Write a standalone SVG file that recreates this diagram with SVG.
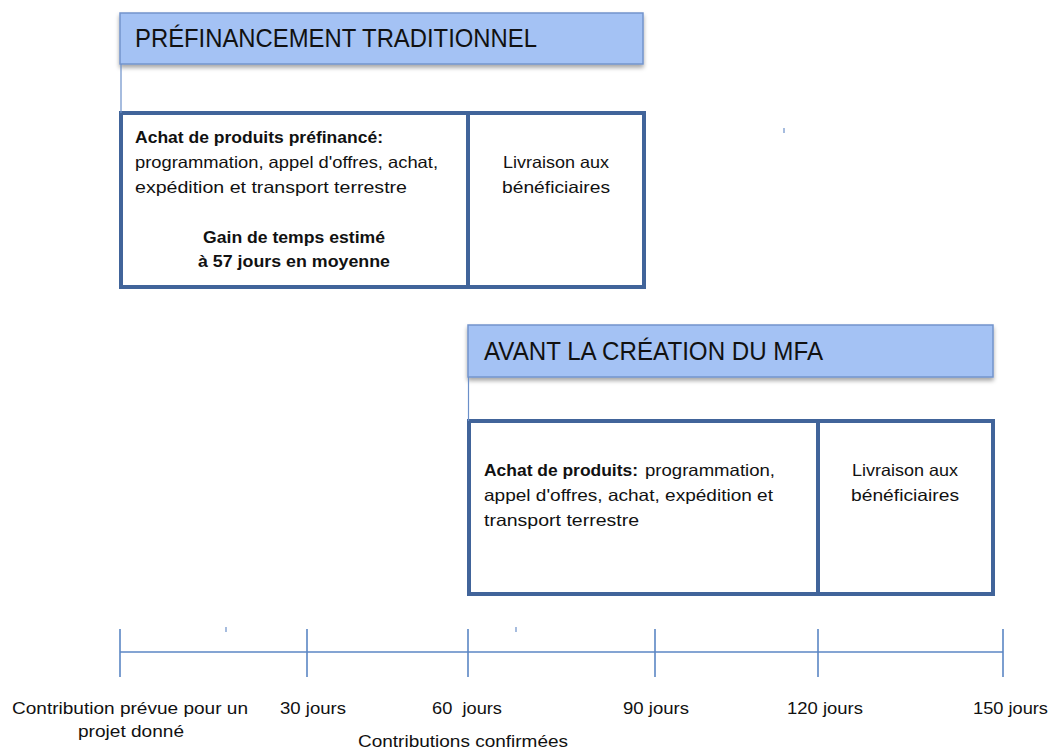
<svg xmlns="http://www.w3.org/2000/svg" width="1051" height="749" viewBox="0 0 1051 749">
<defs>
<filter id="sh" x="-5%" y="-20%" width="110%" height="160%">
<feDropShadow dx="0" dy="3" stdDeviation="2" flood-color="#000" flood-opacity="0.35"/>
</filter>
</defs>
<style>
text{font-family:"Liberation Sans",Arial,sans-serif;fill:#111;}
.hd{fill:#a4c2f4;stroke:#7394cc;stroke-width:1.5;}
.ht{font-size:26px;}
.bx{fill:#fff;stroke:#41649a;stroke-width:4;}
.t{font-size:16.5px;}
.b{font-weight:bold;}
.ax{stroke:#5b86c4;stroke-width:1.6;fill:none;}
.lk{stroke:#6b8fc9;stroke-width:1.2;}
</style>

<g id="header-prefinancement">
<rect class="hd" x="120" y="13" width="523" height="51" filter="url(#sh)"/>
<text class="ht" x="135" y="47" textLength="402" lengthAdjust="spacingAndGlyphs">PRÉFINANCEMENT TRADITIONNEL</text>
</g>

<g id="header-avant-mfa">
<rect class="hd" x="468" y="325" width="525" height="52" filter="url(#sh)"/>
<text class="ht" x="484" y="360" textLength="339" lengthAdjust="spacingAndGlyphs">AVANT LA CRÉATION DU MFA</text>
</g>

<g id="box-prefinance-achat">
<rect class="bx" x="121" y="113" width="347" height="174"/>
<text class="t b" x="135" y="143" textLength="248" lengthAdjust="spacingAndGlyphs">Achat de produits préfinancé:</text>
<text class="t" x="135" y="168" textLength="303" lengthAdjust="spacingAndGlyphs">programmation, appel d'offres, achat,</text>
<text class="t" x="135" y="193" textLength="272" lengthAdjust="spacingAndGlyphs">expédition et transport terrestre</text>
<text class="t b" x="203" y="243" textLength="182" lengthAdjust="spacingAndGlyphs">Gain de temps estimé</text>
<text class="t b" x="198" y="267" textLength="192" lengthAdjust="spacingAndGlyphs">à 57 jours en moyenne</text>
</g>

<g id="box-prefinance-livraison">
<rect class="bx" x="468" y="113" width="176" height="174"/>
<text class="t" x="503" y="168" textLength="106" lengthAdjust="spacingAndGlyphs">Livraison aux</text>
<text class="t" x="502" y="193" textLength="108" lengthAdjust="spacingAndGlyphs">bénéficiaires</text>
</g>

<g id="box-avant-achat">
<rect class="bx" x="469" y="421" width="349" height="173"/>
<text class="t" x="484" y="476"><tspan class="b" textLength="154" lengthAdjust="spacingAndGlyphs">Achat de produits:</tspan><tspan x="645" textLength="130" lengthAdjust="spacingAndGlyphs">programmation,</tspan></text>
<text class="t" x="484" y="501" textLength="289" lengthAdjust="spacingAndGlyphs">appel d'offres, achat, expédition et</text>
<text class="t" x="484" y="526" textLength="155" lengthAdjust="spacingAndGlyphs">transport terrestre</text>
</g>

<g id="box-avant-livraison">
<rect class="bx" x="818" y="421" width="175" height="173"/>
<text class="t" x="852" y="476" textLength="106" lengthAdjust="spacingAndGlyphs">Livraison aux</text>
<text class="t" x="851" y="501" textLength="108" lengthAdjust="spacingAndGlyphs">bénéficiaires</text>
</g>

<g id="timeline">
<line class="ax" x1="120" y1="652" x2="1003" y2="652"/>
<line class="ax" x1="120" y1="629" x2="120" y2="677"/>
<line class="ax" x1="307" y1="629" x2="307" y2="677"/>
<line class="ax" x1="468" y1="629" x2="468" y2="677"/>
<line class="ax" x1="655" y1="629" x2="655" y2="677"/>
<line class="ax" x1="818" y1="629" x2="818" y2="677"/>
<line class="ax" x1="1003" y1="629" x2="1003" y2="677"/>
<line class="lk" x1="226" y1="627" x2="226" y2="632"/>
<line class="lk" x1="516" y1="627" x2="516" y2="632"/>
<line class="lk" x1="784" y1="128" x2="784" y2="133"/>
<text class="t" x="12" y="714" textLength="236" lengthAdjust="spacingAndGlyphs">Contribution prévue pour un</text>
<text class="t" x="78" y="737" textLength="106" lengthAdjust="spacingAndGlyphs">projet donné</text>
<text class="t" x="280" y="714" textLength="66" lengthAdjust="spacingAndGlyphs">30 jours</text>
<text class="t" x="432" y="714" textLength="70" lengthAdjust="spacingAndGlyphs" xml:space="preserve">60  jours</text>
<text class="t" x="358" y="747" textLength="210" lengthAdjust="spacingAndGlyphs">Contributions confirmées</text>
<text class="t" x="623" y="714" textLength="66" lengthAdjust="spacingAndGlyphs">90 jours</text>
<text class="t" x="787" y="714" textLength="76" lengthAdjust="spacingAndGlyphs">120 jours</text>
<text class="t" x="973" y="714" textLength="75" lengthAdjust="spacingAndGlyphs">150 jours</text>
</g>

<g id="connectors">
<line class="lk" x1="121" y1="64" x2="121" y2="113"/>
<line class="lk" x1="468.5" y1="377" x2="468.5" y2="421"/>
</g>
</svg>
